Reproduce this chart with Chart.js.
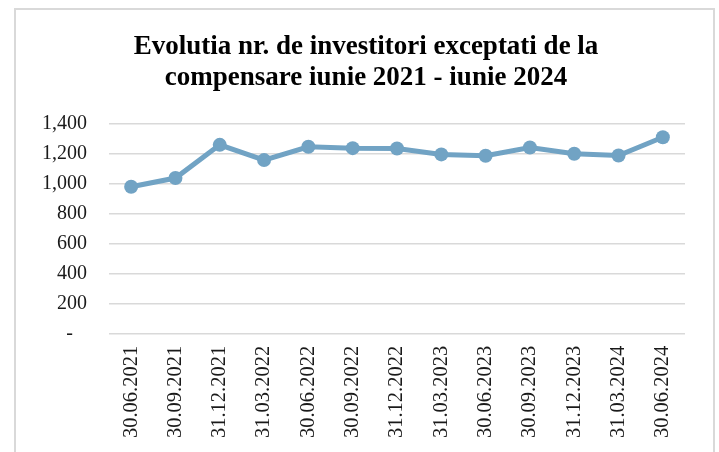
<!DOCTYPE html>
<html>
<head>
<meta charset="utf-8">
<script src="https://cdn.jsdelivr.net/npm/chart.js@4"></script>
<style>
  body { margin: 0; background: #fff; }
  #wrap { width: 719px; height: 452px; }
</style>
</head>
<body>
<div id="wrap"><canvas id="chart" width="719" height="452"></canvas></div>
<script>
// data
let dates = ["30.06.2021", "30.09.2021", "31.12.2021", "31.03.2022", "30.06.2022", "30.09.2022",
	"31.12.2022", "31.03.2023", "30.06.2023", "30.09.2023", "31.12.2023", "31.03.2024", "30.06.2024"];
let investors = [982, 1040, 1262, 1160, 1249, 1240, 1238, 1198, 1189, 1244, 1202, 1191, 1313];
let titleLines = ["Evolutia nr. de investitori exceptati de la", "compensare iunie 2021 - iunie 2024"];

let lineColor = "#71a3c4";
let gridColor = "#d9d9d9";
let fontFamily = "'Liberation Serif', 'Times New Roman', serif";

// gray frame around the whole chart, like the excel export
const framePlugin = {
	id: 'frame',
	beforeDraw(chart) {
		let ctx = chart.ctx;
		ctx.save();
		ctx.strokeStyle = gridColor;
		ctx.lineWidth = 2;
		ctx.strokeRect(15, 9, 699, 470);
		ctx.restore();
	}
};

// the title sits centred in the frame, a bit right of the canvas centre
let shiftedTitle = titleLines.map(function (line) { return "\u2002\u2002" + line; });

let ctx = document.getElementById("chart");
let myChart = new Chart(ctx, {
	type: 'line',
	data: {
		labels: dates,
		datasets: [{
			data: investors,
			borderColor: lineColor,
			backgroundColor: lineColor,
			borderWidth: 5,
			pointRadius: 7,
			pointHoverRadius: 7,
			pointBackgroundColor: lineColor,
			pointBorderWidth: 0,
			tension: 0,
			fill: false
		}]
	},
	options: {
		responsive: false,
		animation: false,
		layout: { padding: { left: 20, right: 34, top: 0, bottom: 2 } },
		plugins: {
			legend: { display: false },
			tooltip: { enabled: false },
			title: {
				display: true,
				text: shiftedTitle,
				color: '#000',
				font: { family: fontFamily, size: 27, weight: 'bold', lineHeight: 1.17 },
				padding: { top: 31, bottom: 30 }
			}
		},
		scales: {
			x: {
				offset: true,
				grid: { display: false, drawTicks: false },
				border: { display: false },
				ticks: {
					color: '#1a1a1a',
					font: { family: fontFamily, size: 20.5 },
					minRotation: 90,
					maxRotation: 90,
					padding: 12,
					autoSkip: false
				}
			},
			y: {
				min: 0,
				max: 1400,
				grid: { color: gridColor, lineWidth: 1.5, drawTicks: false },
				border: { display: false },
				ticks: {
					stepSize: 200,
					padding: 22,
					color: '#1a1a1a',
					font: { family: fontFamily, size: 20 },
					callback: function (value) {
						if (value === 0) return "-  \u2009";
						return value.toLocaleString('en-US');
					}
				}
			}
		}
	},
	plugins: [framePlugin]
});
</script>
</body>
</html>
